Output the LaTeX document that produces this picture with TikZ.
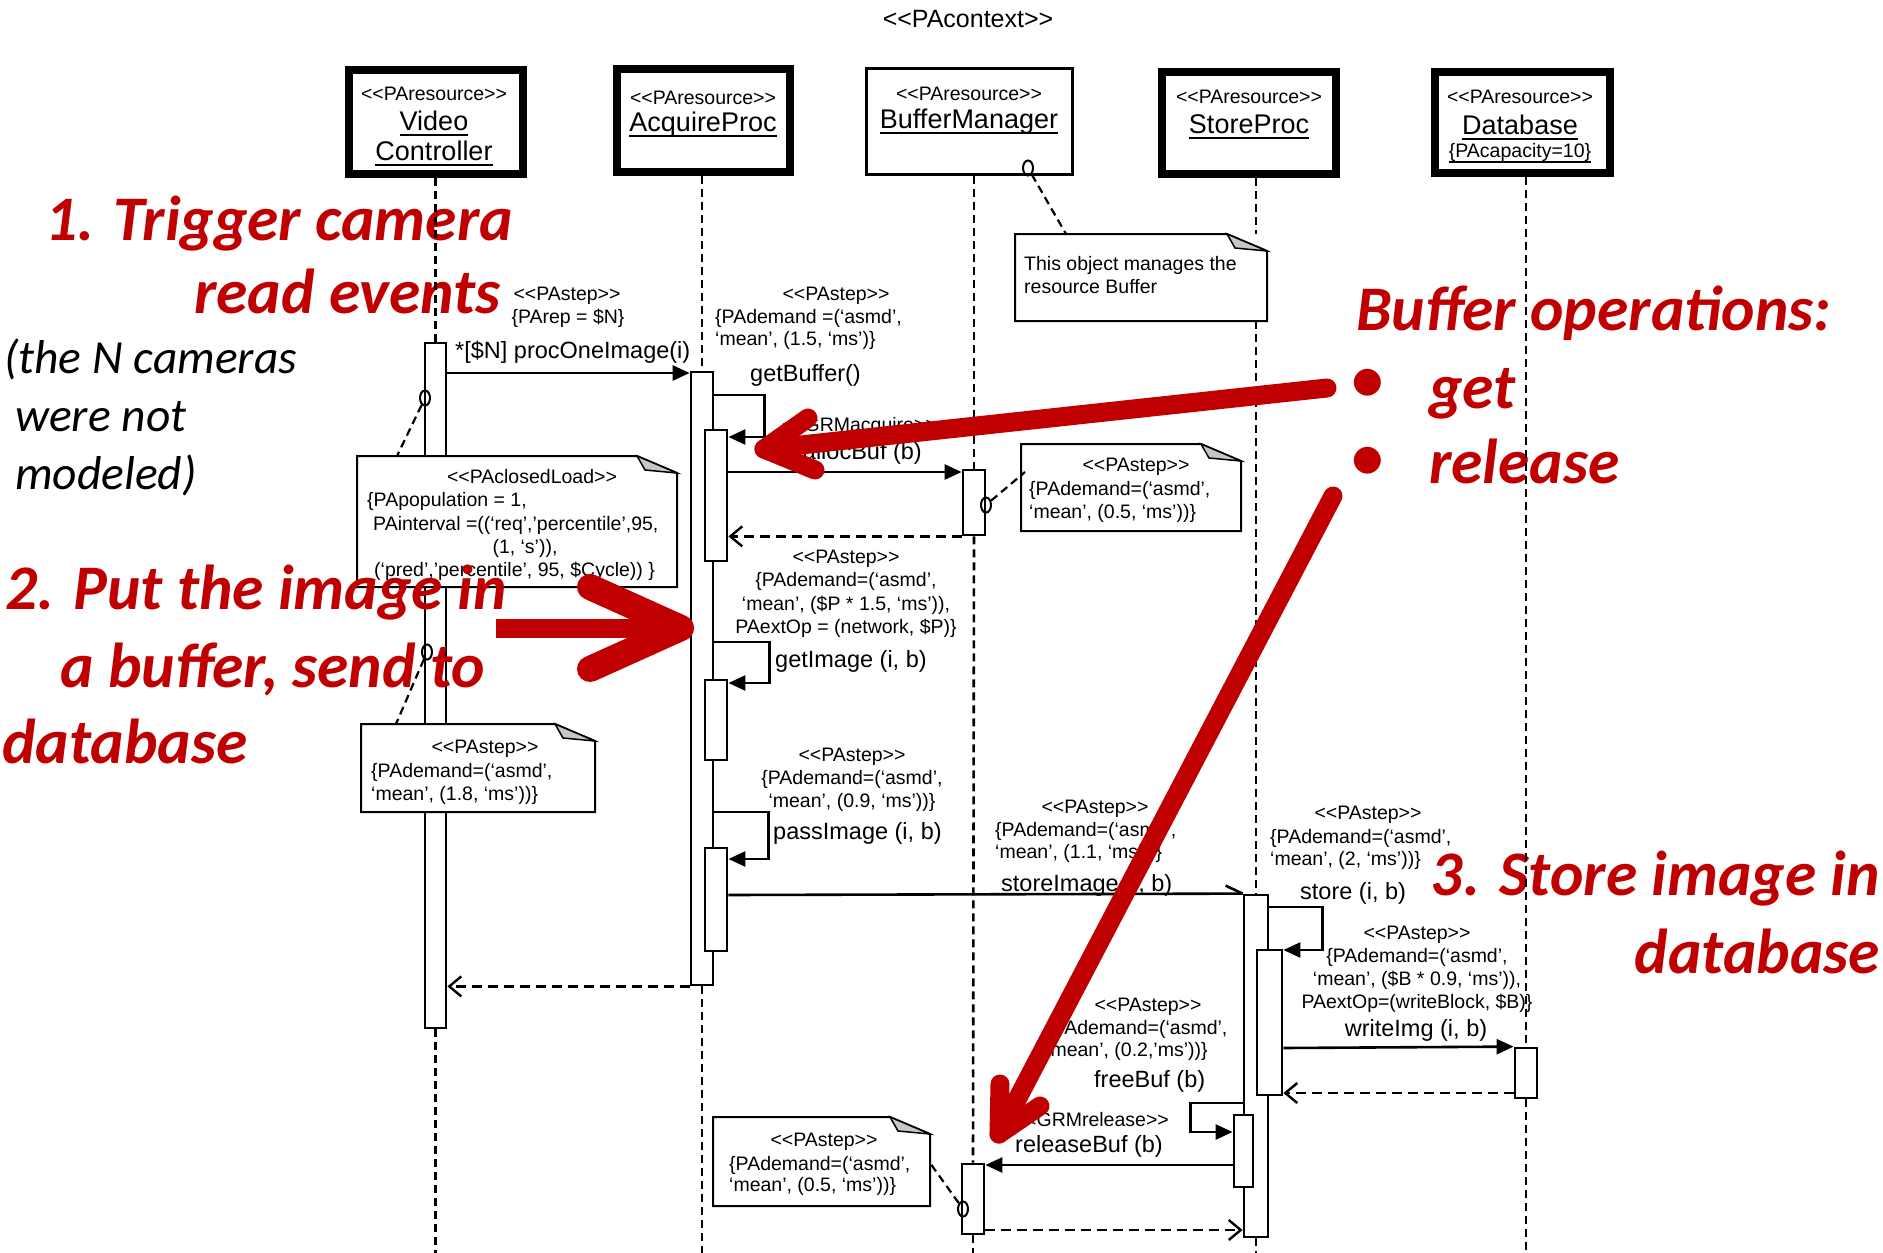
\documentclass[tikz,border=0pt]{standalone}
\usepackage{fontspec}
\newfontfamily\arialf{Liberation Sans}
\newfontfamily\calfont{Carlito}
\usetikzlibrary{arrows.meta,shapes.geometric,calc}
\definecolor{callout}{RGB}{192,0,0}

% type sizes (1pt = 1 image pixel)
\newcommand\stf{\arialf\fontsize{19.5pt}{22.5pt}\selectfont}
\newcommand\msgf{\arialf\fontsize{23.5pt}{27pt}\selectfont}
\newcommand\namef{\arialf\fontsize{27pt}{31pt}\selectfont}
\newcommand\titlef{\arialf\fontsize{25pt}{29pt}\selectfont}
\newcommand\bigred{\calfont\bfseries\itshape\fontsize{63.5pt}{70pt}\selectfont}
\newcommand\midit{\calfont\itshape\fontsize{47.5pt}{55pt}\selectfont}
% underlined object names
\newcommand\uln[1]{\setbox0\hbox{#1}\rlap{\rule[-6pt]{\wd0}{2.2pt}}\box0}

\tikzset{
  thickhead/.style={draw, line width=8pt, inner sep=0pt},
  thinhead/.style={draw, line width=2.8pt, inner sep=0pt},
  bar/.style={draw, line width=2.8pt, inner sep=0pt, minimum width=22pt},
  nbar/.style={bar, fill=white},
  lifeline/.style={line width=2.6pt, dash pattern=on 8pt off 5pt},
  msg/.style={line width=2.6pt, -{Triangle[length=17pt,width=15pt]}},
  plainmsg/.style={line width=2.6pt},
  reply/.style={line width=2.4pt, dash pattern=on 10pt off 6pt,
    -{Straight Barb[length=12pt,width=20pt,line width=2.4pt]}},
  anchorline/.style={line width=2.2pt, dash pattern=on 8pt off 5pt},
  notebody/.style={draw, line width=2pt, fill=white},
  fold/.style={draw, line width=1.5pt, fill=black!22},
  oring/.style={draw, ellipse, line width=2pt, minimum width=10pt, minimum height=15pt, inner sep=0pt},
  st/.style={font=\stf, inner sep=0pt},
  ms/.style={font=\msgf, inner sep=0pt},
  nm/.style={font=\namef, inner sep=0pt},
  callout/.style={text=callout, inner sep=0pt},
  redarrow/.style={draw=callout, line width=19pt, line cap=round, line join=round},
}

% UML note with folded corner: name, x1, y1, x2, y2
\newcommand\notebox[5]{%
  \draw[notebody] (#2,#3) -- (#4-40,#3) -- (#4,#3+17) -- (#4,#5) -- (#2,#5) -- cycle;
  \draw[fold] (#4-40,#3) -- (#4-32,#3+14) -- (#4,#3+17) -- cycle;
  \coordinate (#1-nw) at (#2,#3);
  \coordinate (#1-sw) at (#2,#5);
  \coordinate (#1-ne) at (#4,#3);}

\begin{document}
\begin{tikzpicture}[x=1pt,y=-1pt]
\path[use as bounding box, fill=white] (0,0) rectangle (1883,1253);
\coordinate (bottom) at (0,1253);

% ---------- object heads ----------
\node[font=\titlef, inner sep=0pt, anchor=base] (ctx) at (968,27) {<<PAcontext>>};

\node[thickhead, minimum width=174pt, minimum height=104pt] (vc) at (436,122) {};
\node[thickhead, minimum width=173pt, minimum height=103pt] (ap) at (703.5,120.5) {};
\node[thinhead, minimum width=206pt, minimum height=106pt] (bm) at (969.5,121.5) {};
\node[thickhead, minimum width=173.5pt, minimum height=102pt] (sp) at (1249,123) {};
\node[thickhead, minimum width=175pt, minimum height=101pt] (db) at (1522.5,122.5) {};

\node[st, anchor=base] (vc-st) at (434,100) {<<PAresource>>};
\node[nm, anchor=base] (vc-n1) at (434,130) {\uln{Video}};
\node[nm, anchor=base] (vc-n2) at (434,160) {\uln{Controller}};
\node[st, anchor=base] (ap-st) at (703,104) {<<PAresource>>};
\node[nm, anchor=base] (ap-n) at (703,131) {\uln{AcquireProc}};
\node[st, anchor=base] (bm-st) at (969,100) {<<PAresource>>};
\node[nm, anchor=base] (bm-n) at (969,128) {\uln{BufferManager}};
\node[st, anchor=base] (sp-st) at (1249,103) {<<PAresource>>};
\node[nm, anchor=base] (sp-n) at (1249,133) {\uln{StoreProc}};
\node[st, anchor=base] (db-st) at (1520,103) {<<PAresource>>};
\node[nm, anchor=base] (db-n) at (1520,134) {\uln{Database}};
\node[st, anchor=base] (db-c) at (1520,157) {\uln{\{PAcapacity=10\}}};

% ---------- activation bars ----------
\node[bar, minimum width=21pt, minimum height=685pt] (vcbar) at (435.5,685.5) {};
\node[bar, minimum height=613pt] (apbar) at (702,678.5) {};
\node[nbar, minimum height=131pt] (apn1) at (716,495.5) {};
\node[nbar, minimum height=80pt] (apn2) at (716,720) {};
\node[nbar, minimum height=103pt] (apn3) at (716,899.5) {};
\node[bar, minimum height=65pt] (bmb1) at (974,502.5) {};
\node[bar, minimum height=70pt] (bmb2) at (973,1199) {};
\node[bar, minimum width=24pt, minimum height=342pt] (spbar) at (1256,1066) {};
\node[nbar, minimum width=25pt, minimum height=145pt] (spn1) at (1269.5,1022.5) {};
\node[nbar, minimum width=19pt, minimum height=72pt] (spn2) at (1243.5,1151) {};
\node[bar, minimum height=50pt] (dbb) at (1526,1073) {};

% ---------- notes ----------
\notebox{bmh}{1015}{234}{1267}{321}
\node[st, anchor=base west] (bmh-1) at (1024,270) {This object manages the};
\node[st, anchor=base west] (bmh-2) at (1024,293) {resource Buffer};

\notebox{vcn}{357}{456}{677}{587}
\node[st, anchor=base] (vcn-1) at (532,483) {<<PAclosedLoad>>};
\node[st, anchor=base west] (vcn-2) at (367,506) {\{PApopulation = 1,};
\node[st, anchor=base west] (vcn-3) at (373,530) {PAinterval =((‘req’,’percentile’,95,};
\node[st, anchor=base] (vcn-4) at (525,553) {(1, ‘s’)),};
\node[st, anchor=base west] (vcn-5) at (374,576) {(‘pred’,’percentile’, 95, \$Cycle)) \}};

\notebox{bmn2}{1021}{444}{1241}{531}
\node[st, anchor=base] (bmn2-1) at (1136,471) {<<PAstep>>};
\node[st, anchor=base west] (bmn2-2) at (1029,495) {\{PAdemand=(‘asmd’,};
\node[st, anchor=base west] (bmn2-3) at (1029,518) {‘mean’, (0.5, ‘ms’))\}};

\notebox{vcn2}{361}{724}{595}{812}
\node[st, anchor=base] (vcn2-1) at (485,753) {<<PAstep>>};
\node[st, anchor=base west] (vcn2-2) at (371,777) {\{PAdemand=(‘asmd’,};
\node[st, anchor=base west] (vcn2-3) at (371,800) {‘mean’, (1.8, ‘ms’))\}};

\notebox{bmn3}{713}{1117}{930}{1206}
\node[st, anchor=base] (bmn3-1) at (824,1146) {<<PAstep>>};
\node[st, anchor=base west] (bmn3-2) at (729,1170) {\{PAdemand=(‘asmd’,};
\node[st, anchor=base west] (bmn3-3) at (729,1191) {‘mean’, (0.5, ‘ms’))\}};

% ---------- callout texts ----------
\node[callout, font=\bigred, anchor=base west] (r1a) at (45,240) {1. Trigger camera};
\node[callout, font=\bigred, anchor=base east] (r1b) at (501,313) {read events};
\node[font=\midit, inner sep=0pt, anchor=base west] (c1) at (4,373) {(the N cameras};
\node[font=\midit, inner sep=0pt, anchor=base west] (c2) at (15,431) {were not};
\node[font=\midit, inner sep=0pt, anchor=base west] (c3) at (15,489) {modeled)};
\node[callout, font=\bigred, anchor=base west] (r2a) at (5,609) {2. Put the image in};
\node[callout, font=\bigred, anchor=base west] (r2b) at (60,687) {a buffer, send to};
\node[callout, font=\bigred, anchor=base west] (r2c) at (2,763) {database};
\node[callout, font=\bigred, anchor=base west] (b0) at (1356,330) {Buffer operations:};
\node[callout, font=\bigred] (b1) at (1367,385) {•};
\node[callout, font=\bigred, anchor=base west] (b1t) at (1429,408) {get};
\node[callout, font=\bigred] (b2) at (1367,463) {•};
\node[callout, font=\bigred, anchor=base west] (b2t) at (1429,483) {release};
\node[callout, font=\bigred, anchor=base east] (r3a) at (1880,895) {3. Store image in};
\node[callout, font=\bigred, anchor=base east] (r3b) at (1880,973) {database};

% ---------- lifelines ----------
\draw[lifeline] (vc.south -| vcbar.north) -- (vcbar.north);
\draw[lifeline] (vcbar.south) -- (vcbar.south |- bottom);
\draw[lifeline] (ap.south -| apbar.north) -- (apbar.north);
\draw[lifeline] (apbar.south) -- (apbar.south |- bottom);
\draw[lifeline] (bm.south -| bmb1.north) -- (bmb1.north);
\draw[lifeline] (bmb1.south) -- (bmb2.north);
\draw[lifeline] (bmb2.south) -- (bmb2.south |- bottom);
\draw[lifeline] (sp.south -| spbar.north) -- (spbar.north |- bmh-nw);
\draw[lifeline] (spbar.north |- bmh-sw) -- (spbar.north);
\draw[lifeline] (spbar.south) -- (spbar.south |- bottom);
\draw[lifeline] (db.south -| dbb.north) -- (dbb.north);
\draw[lifeline] (dbb.south) -- (dbb.south |- bottom);

% ---------- note anchors ----------
\node[oring] (o1) at (425,398) {};
\node[oring] (o2) at (427,652) {};
\node[oring] (o3) at (986,505) {};
\node[oring] (o4) at (963,1209) {};
\node[oring] (o5) at (1028,168) {};
\draw[anchorline] (o1) -- ($(vcn-nw)+(40,0)$);
\draw[anchorline] (o2) -- ($(vcn2-nw)+(35,0)$);
\draw[anchorline] (o3) -- ($(bmn2-nw)+(4,28)$);
\draw[anchorline] (o4) -- ($(bmn3-ne)+(0,46)$);
\draw[anchorline] (o5) -- ($(bmh-nw)+(51,0)$);

% ---------- messages ----------
\draw[msg] (vcbar.east |- 0,373) -- (apbar.west |- 0,373);
\node[st, anchor=base] (m1-s) at (567,300) {<<PAstep>>};
\node[st, anchor=base] (m1-t) at (568,323) {\{PArep = \$N\}};
\node[ms, anchor=base west] (m1) at (455,358) {*[\$N] procOneImage(i)};

\draw[msg] (apbar.east |- 0,395) -- ++(50,0) |- (apn1.east |- 0,437);
\node[st, anchor=base] (m2-s) at (836,300) {<<PAstep>>};
\node[st, anchor=base west] (m2-t1) at (715,323) {\{PAdemand =(‘asmd’,};
\node[st, anchor=base west] (m2-t2) at (715,345) {‘mean’, (1.5, ‘ms’)\}};
\node[ms, anchor=base west] (m2) at (750,381) {getBuffer()};

\draw[msg] (apn1.east |- 0,472) -- (bmb1.west |- 0,472);
\node[st, anchor=base east] (m3-s) at (937,431) {<<GRMacquire>>};
\node[ms, anchor=base east] (m3) at (922,459) {allocBuf (b)};
\draw[reply] (bmb1.south west) -- (apn1.east |- bmb1.south west);

\node[st, anchor=base] (m4-s) at (846,563) {<<PAstep>>};
\node[st, anchor=base] (m4-t1) at (846,586) {\{PAdemand=(‘asmd’,};
\node[st, anchor=base] (m4-t2) at (846,610) {‘mean’, (\$P * 1.5, ‘ms’)),};
\node[st, anchor=base] (m4-t3) at (846,633) {PAextOp = (network, \$P)\}};
\draw[msg] (apbar.east |- 0,642) -- ++(55,0) |- (apn2.east |- 0,683);
\node[ms, anchor=base west] (m4) at (775,667) {getImage (i, b)};

\node[st, anchor=base] (m5-s) at (852,761) {<<PAstep>>};
\node[st, anchor=base] (m5-t1) at (852,784) {\{PAdemand=(‘asmd’,};
\node[st, anchor=base] (m5-t2) at (852,807) {‘mean’, (0.9, ‘ms’))\}};
\draw[msg] (apbar.east |- 0,812) -- ++(54,0) |- (apn3.east |- 0,859);
\node[ms, anchor=base west] (m5) at (773,839) {passImage (i, b)};

\draw[plainmsg] (apn3.east |- 0,895) -- (spbar.north west);
\draw[plainmsg] (spbar.north west) -- ++(-17,-8);
\node[st, anchor=base] (m6-s) at (1095,813) {<<PAstep>>};
\node[st, anchor=base west] (m6-t1) at (995,836) {\{PAdemand=(‘asmd’,};
\node[st, anchor=base west] (m6-t2) at (995,858) {‘mean’, (1.1, ‘ms’))\}};
\node[ms, anchor=base west] (m6) at (1001,891) {storeImage (i, b)};

\draw[reply] (apbar.south west) -- (vcbar.east |- apbar.south west);

\node[st, anchor=base] (m7-s) at (1368,819) {<<PAstep>>};
\node[st, anchor=base west] (m7-t1) at (1270,843) {\{PAdemand=(‘asmd’,};
\node[st, anchor=base west] (m7-t2) at (1270,865) {‘mean’, (2, ‘ms’))\}};
\node[ms, anchor=base west] (m7) at (1300,899) {store (i, b)};
\draw[msg] (spbar.east |- 0,907) -- ++(53,0) |- (spn1.east |- 0,950);

\node[st, anchor=base] (m8-s) at (1417,939) {<<PAstep>>};
\node[st, anchor=base] (m8-t1) at (1417,962) {\{PAdemand=(‘asmd’,};
\node[st, anchor=base] (m8-t2) at (1417,985) {‘mean’, (\$B * 0.9, ‘ms’)),};
\node[st, anchor=base] (m8-t3) at (1417,1008) {PAextOp=(writeBlock, \$B)\}};
\node[ms, anchor=base] (m8) at (1416,1036) {writeImg (i, b)};
\draw[msg] (spn1.east |- 0,1048) -- (dbb.north west);
\draw[reply] (dbb.west |- 0,1093) -- (spn1.east |- 0,1093);

\node[st, anchor=base] (m9-s) at (1148,1011) {<<PAstep>>};
\node[st, anchor=base west] (m9-t1) at (1046,1034) {\{PAdemand=(‘asmd’,};
\node[st, anchor=base west] (m9-t2) at (1046,1056) {‘mean’, (0.2,’ms’))\}};
\node[ms, anchor=base west] (m9) at (1094,1087) {freeBuf (b)};
\draw[msg] (spbar.west |- 0,1103) -- ++(-52,0) |- (spn2.west |- 0,1132);

\node[st, anchor=base east] (m10-s) at (1169,1126) {<<GRMrelease>>};
\node[ms, anchor=base west] (m10) at (1015,1152) {releaseBuf (b)};
\draw[msg] (spn2.west |- 0,1165) -- (bmb2.east |- 0,1165);
\draw[reply] (bmb2.east |- 0,1230) -- (spbar.west |- 0,1230);

% ---------- callout arrows ----------
\draw[redarrow, line cap=butt] (496,628) -- (672,628);
\draw[redarrow, line width=26pt] (590,587) -- (681,628) -- (590,669);
\draw[redarrow] (1327,388) -- (764,449);
\draw[redarrow] (808,418) -- (764,449) -- (815,470);
\draw[redarrow] (1333,496) -- (999,1134);
\draw[redarrow] (1000,1084) -- (999,1134) -- (1040,1106);
\end{tikzpicture}
\end{document}
